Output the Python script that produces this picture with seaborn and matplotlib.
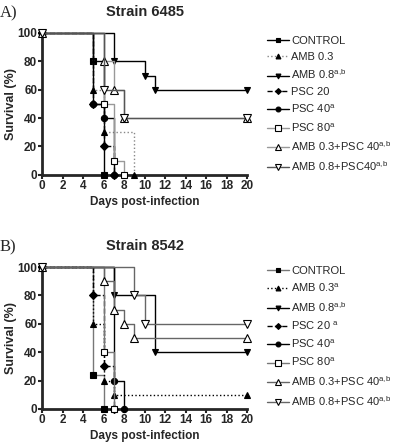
import matplotlib
matplotlib.use("Agg")
import matplotlib.pyplot as plt
import seaborn as sns
import pandas as pd
from matplotlib.lines import Line2D

sns.set_style("ticks")
plt.rcParams['font.family'] = ['Liberation Sans', 'DejaVu Sans']
plt.rcParams['mathtext.fontset'] = 'custom'
plt.rcParams['mathtext.rm'] = 'Liberation Sans'

# Strain 6485: (days, survival %) at each step
a_days = {
    'CONTROL': [0, 5, 6],
    'AMB 0.3': [0, 5, 6, 9],
    'AMB 0.8': [0, 7, 10, 11, 20],
    'PSC 20': [0, 5, 6, 7],
    'PSC 40': [0, 5, 6, 7],
    'PSC 80': [0, 6, 7, 8],
    'AMB 0.3+PSC 40': [0, 6, 7, 8, 20],
    'AMB 0.8+PSC40': [0, 6, 8, 20],
}
a_surv = {
    'CONTROL': [100, 80, 0],
    'AMB 0.3': [100, 60, 30, 0],
    'AMB 0.8': [100, 80, 70, 60, 60],
    'PSC 20': [100, 50, 20, 0],
    'PSC 40': [100, 50, 40, 0],
    'PSC 80': [100, 50, 10, 0],
    'AMB 0.3+PSC 40': [100, 80, 60, 40, 40],
    'AMB 0.8+PSC40': [100, 60, 40, 40],
}
a_labels = ['CONTROL', 'AMB 0.3', r'AMB 0.8$^{\mathrm{a{,}b}}$', 'PSC 20', r'PSC 40$^{\mathrm{a}}$',
            r'PSC 80$^{\mathrm{a}}$', r'AMB 0.3+PSC 40$^{\mathrm{a{,}b}}$',
            r'AMB 0.8+PSC40$^{\mathrm{a{,}b}}$']

# Strain 8542
b_days = {
    'CONTROL': [0, 5, 6],
    'AMB 0.3': [0, 5, 6, 7, 20],
    'AMB 0.8': [0, 7, 11, 20],
    'PSC 20': [0, 5, 6, 7],
    'PSC 40': [0, 7, 8],
    'PSC 80': [0, 6, 7],
    'AMB 0.3+PSC 40': [0, 6, 7, 8, 9, 20],
    'AMB 0.8+PSC40': [0, 9, 10, 20],
}
b_surv = {
    'CONTROL': [100, 24, 0],
    'AMB 0.3': [100, 60, 20, 10, 10],
    'AMB 0.8': [100, 80, 40, 40],
    'PSC 20': [100, 80, 30, 0],
    'PSC 40': [100, 20, 0],
    'PSC 80': [100, 40, 0],
    'AMB 0.3+PSC 40': [100, 90, 70, 60, 50, 50],
    'AMB 0.8+PSC40': [100, 80, 60, 60],
}
b_labels = ['CONTROL', r'AMB 0.3$^{\mathrm{a}}$', r'AMB 0.8$^{\mathrm{a{,}b}}$',
            r'PSC 20 $^{\mathrm{a}}$', r'PSC 40$^{\mathrm{a}}$', r'PSC 80$^{\mathrm{a}}$',
            r'AMB 0.3+PSC 40$^{\mathrm{a{,}b}}$', r'AMB 0.8+PSC 40$^{\mathrm{a{,}b}}$']

groups = ['CONTROL', 'AMB 0.3', 'AMB 0.8', 'PSC 20', 'PSC 40', 'PSC 80',
          'AMB 0.3+PSC 40', 'AMB 0.8+PSC40']
markers = ['s', '^', 'v', 'D', 'o', 's', '^', 'v']
faces = ['black', 'black', 'black', 'black', 'black', 'white', 'white', 'white']
styles = ['-', ':', '-', '--', '-', '-', '-', '-']
sizes = [4.5, 4.5, 4.5, 4, 4.5, 5, 5.5, 5.5]

a_colors = ['black', '#888888', 'black', 'black', 'black', '#999999', '#999999', '#555555']
b_colors = ['#777777', 'black', 'black', 'black', 'black', '#777777', '#666666', '#666666']

fig = plt.figure(figsize=(4.0, 4.45), dpi=100)


def panel(rect, days, surv, colors, labels, title, letter, leg_y):
    ax = fig.add_axes(rect)
    for i, g in enumerate(groups):
        df = pd.DataFrame({'day': days[g], 'surv': surv[g]})
        sns.lineplot(data=df, x='day', y='surv', ax=ax, drawstyle='steps-post',
                     color=colors[i], linestyle=styles[i], linewidth=1.0,
                     marker=markers[i], markersize=sizes[i], markerfacecolor=faces[i],
                     markeredgecolor='black', markeredgewidth=0.8, clip_on=False,
                     zorder=3)
    ax.set_xlim(0, 20)
    ax.set_ylim(0, 100)
    ax.set_xticks(range(0, 21, 2))
    ax.set_yticks(range(0, 101, 20))
    for lab in ax.get_xticklabels() + ax.get_yticklabels():
        lab.set_fontweight('bold')
        lab.set_fontsize(8.5)
    ax.tick_params(width=1.5, length=3, pad=0.5)
    for s in ['left', 'bottom']:
        ax.spines[s].set_linewidth(2)
    sns.despine(ax=ax)
    ax.set_xlabel('Days post-infection', fontsize=8.5, fontweight='bold', labelpad=3)
    ax.set_ylabel('Survival (%)', fontsize=9, fontweight='bold', labelpad=0.5)
    ax.set_title(title, fontsize=10.5, fontweight='bold', pad=12)
    fig.text(0.0, rect[1] + rect[3] + 0.045, letter, fontsize=12,
             family=['Liberation Serif', 'DejaVu Serif'], va='center')
    handles = []
    for i in range(len(groups)):
        handles.append(Line2D([0], [0], color=colors[i], linestyle=styles[i], linewidth=1.0,
                              marker=markers[i], markersize=sizes[i] - 1,
                              markerfacecolor=faces[i], markeredgecolor='black',
                              markeredgewidth=0.8))
    fig.legend(handles, labels, loc='upper left', bbox_to_anchor=(0.668, leg_y),
               frameon=False, fontsize=8, handlelength=2.0, handletextpad=0.15,
               labelspacing=0.52, borderaxespad=0, borderpad=0)


panel([0.105, 0.607, 0.5125, 0.319], a_days, a_surv, a_colors, a_labels,
      'Strain 6485', 'A)', 0.919)
panel([0.105, 0.081, 0.5125, 0.319], b_days, b_surv, b_colors, b_labels,
      'Strain 8542', 'B)', 0.402)

fig.savefig('out.png', dpi=100)
